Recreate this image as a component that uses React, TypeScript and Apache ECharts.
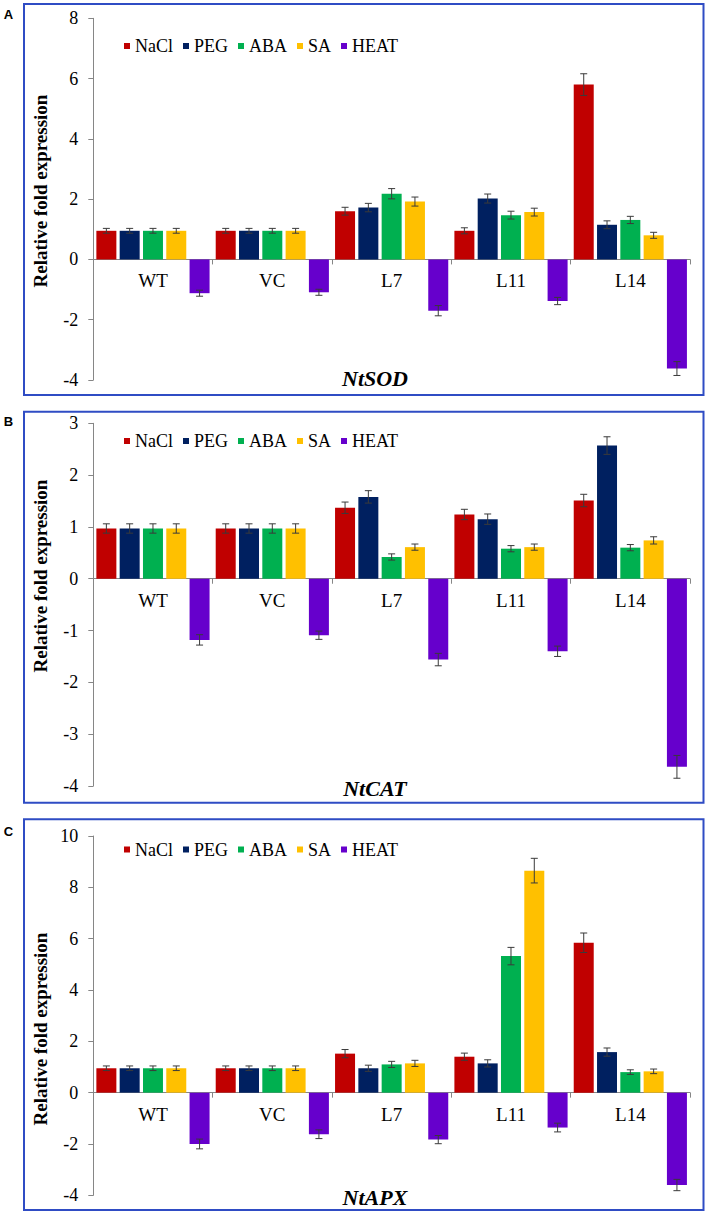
import React, { useEffect, useRef } from "react";
import * as echarts from "echarts";

const categories = ["WT", "VC", "L7", "L11", "L14"];
const seriesNames = ["NaCl", "PEG", "ABA", "SA", "HEAT"];
const colors = ["#C00000", "#002060", "#00B050", "#FFC000", "#6600CC"];

// Panel A: NtSOD
const sodNaCl = [0.95, 0.95, 1.6, 0.95, 5.8];
const sodPEG = [0.95, 0.95, 1.72, 2.02, 1.15];
const sodABA = [0.95, 0.95, 2.18, 1.47, 1.31];
const sodSA = [0.95, 0.95, 1.92, 1.57, 0.8];
const sodHEAT = [-1.12, -1.09, -1.7, -1.38, -3.62];
const sodNaClErr = [0.08, 0.08, 0.13, 0.1, 0.36];
const sodPEGErr = [0.08, 0.08, 0.14, 0.15, 0.13];
const sodABAErr = [0.08, 0.08, 0.17, 0.13, 0.12];
const sodSAErr = [0.08, 0.08, 0.15, 0.13, 0.1];
const sodHEATErr = [0.1, 0.1, 0.17, 0.12, 0.23];

// Panel B: NtCAT
const catNaCl = [0.97, 0.97, 1.37, 1.24, 1.51];
const catPEG = [0.97, 0.97, 1.58, 1.15, 2.57];
const catABA = [0.97, 0.97, 0.42, 0.58, 0.6];
const catSA = [0.97, 0.97, 0.61, 0.61, 0.74];
const catHEAT = [-1.18, -1.09, -1.56, -1.4, -3.63];
const catNaClErr = [0.09, 0.09, 0.11, 0.1, 0.12];
const catPEGErr = [0.09, 0.09, 0.12, 0.1, 0.17];
const catABAErr = [0.09, 0.09, 0.06, 0.06, 0.06];
const catSAErr = [0.09, 0.09, 0.06, 0.06, 0.07];
const catHEATErr = [0.1, 0.08, 0.12, 0.1, 0.22];

// Panel C: NtAPX
const apxNaCl = [0.95, 0.95, 1.52, 1.4, 5.84];
const apxPEG = [0.95, 0.95, 0.95, 1.14, 1.58];
const apxABA = [0.95, 0.95, 1.1, 5.32, 0.8];
const apxSA = [0.95, 0.95, 1.14, 8.65, 0.83];
const apxHEAT = [-2.0, -1.62, -1.83, -1.36, -3.6];
const apxNaClErr = [0.09, 0.09, 0.16, 0.14, 0.38];
const apxPEGErr = [0.09, 0.09, 0.12, 0.14, 0.16];
const apxABAErr = [0.09, 0.09, 0.12, 0.34, 0.09];
const apxSAErr = [0.09, 0.09, 0.12, 0.48, 0.09];
const apxHEATErr = [0.19, 0.17, 0.16, 0.17, 0.22];

const geneTitles = ["NtSOD", "NtCAT", "NtAPX"];
const panelLetters = ["A", "B", "C"];
const yMins = [-4, -4, -4];
const yMaxs = [8, 3, 10];
const yIntervals = [2, 1, 2];

const SERIF = "'Liberation Serif', 'Times New Roman', serif";
const SANS = "'Liberation Sans', Arial, sans-serif";

const panelValues = [
  [sodNaCl, sodPEG, sodABA, sodSA, sodHEAT],
  [catNaCl, catPEG, catABA, catSA, catHEAT],
  [apxNaCl, apxPEG, apxABA, apxSA, apxHEAT],
];
const panelErrors = [
  [sodNaClErr, sodPEGErr, sodABAErr, sodSAErr, sodHEATErr],
  [catNaClErr, catPEGErr, catABAErr, catSAErr, catHEATErr],
  [apxNaClErr, apxPEGErr, apxABAErr, apxSAErr, apxHEATErr],
];

// layout
const GRID_LEFT = 93.3;
const GRID_RIGHT_X = 690;
const gridTops = [18.3, 423.3, 836];
const gridHeights = [361.7, 362.7, 359.3];
const frameTops = [4, 411.7, 819.3];
const frameBottoms = [395, 802.7, 1210];
const legendTops = [37, 432, 840.5];
const letterYs = [14.7, 421.8, 831.7];
const yTitleYs = [191, 576, 1029];
const geneTitleYs = [378, 788, 1197];
const BAR_W = 20;
const BAR_GAP = 0.165;

export default function App() {
  const ref = useRef<HTMLDivElement>(null);
  useEffect(() => {
    document.body.style.margin = "0";
    document.body.style.overflow = "hidden";
    if (!ref.current) return;
    const chart = echarts.init(ref.current, undefined, { renderer: "svg" });

    const grids: any[] = [];
    const xAxes: any[] = [];
    const yAxes: any[] = [];
    const legends: any[] = [];
    const series: any[] = [];
    const graphics: any[] = [];

    for (let p = 0; p < 3; p++) {
      grids.push({
        left: GRID_LEFT,
        top: gridTops[p],
        width: GRID_RIGHT_X - GRID_LEFT,
        height: gridHeights[p],
        containLabel: false,
      });
      // place the category axis at the value 0 of the value axis
      const zeroOffset = -gridHeights[p] * (0 - yMins[p]) / (yMaxs[p] - yMins[p]);
      xAxes.push({
        type: "category",
        gridIndex: p,
        data: categories,
        position: "bottom",
        offset: zeroOffset,
        axisLine: { onZero: false, lineStyle: { color: "#868686", width: 1 } },
        axisTick: { show: true, length: 5, alignWithLabel: false, interval: 0, lineStyle: { color: "#868686" } },
        axisLabel: { margin: 12, color: "#000", fontFamily: SERIF, fontSize: 19, interval: 0 },
        splitLine: { show: false },
      });
      yAxes.push({
        type: "value",
        gridIndex: p,
        min: yMins[p],
        max: yMaxs[p],
        interval: yIntervals[p],
        axisLine: { show: true, lineStyle: { color: "#868686", width: 1 } },
        axisTick: { show: true, length: 5, lineStyle: { color: "#868686" } },
        axisLabel: { margin: 15, color: "#000", fontFamily: SERIF, fontSize: 18 },
        splitLine: { show: false },
      });
      legends.push({
        data: seriesNames,
        left: 124,
        top: legendTops[p],
        padding: 0,
        itemGap: 10,
        itemWidth: 6,
        itemHeight: 6,
        icon: "rect",
        selectedMode: false,
        textStyle: { fontFamily: SERIF, fontSize: 18, color: "#000" },
      });

      for (let s = 0; s < 5; s++) {
        series.push({
          type: "bar",
          name: seriesNames[s],
          xAxisIndex: p,
          yAxisIndex: p,
          barWidth: BAR_W,
          barGap: BAR_GAP * 100 + "%",
          itemStyle: { color: colors[s] },
          data: panelValues[p][s],
        });
      }
      for (let s = 0; s < 5; s++) {
        const off = (s - 2) * BAR_W * (1 + BAR_GAP);
        series.push({
          type: "custom",
          name: "err-" + seriesNames[s],
          xAxisIndex: p,
          yAxisIndex: p,
          z: 5,
          encode: { x: 0, y: 1 },
          data: categories.map((_, i) => [i, panelValues[p][s][i], panelErrors[p][s][i]]),
          renderItem: (params: any, api: any) => {
            const cat = api.value(0);
            const v = api.value(1);
            const e = api.value(2);
            const hi = api.coord([cat, v + e]);
            const lo = api.coord([cat, v - e]);
            const x = hi[0] + off;
            const st = { stroke: "#3a3a3a", lineWidth: 1 };
            return {
              type: "group",
              children: [
                { type: "line", shape: { x1: x, y1: hi[1], x2: x, y2: lo[1] }, style: st },
                { type: "line", shape: { x1: x - 3.5, y1: hi[1], x2: x + 3.5, y2: hi[1] }, style: st },
                { type: "line", shape: { x1: x - 3.5, y1: lo[1], x2: x + 3.5, y2: lo[1] }, style: st },
              ],
            };
          },
        });
      }

      graphics.push({
        type: "rect",
        shape: { x: 24, y: frameTops[p], width: 679.5, height: frameBottoms[p] - frameTops[p] },
        style: { fill: "none", stroke: "#2f4cc4", lineWidth: 2 },
        silent: true,
      });
      graphics.push({
        type: "text",
        x: 8.5,
        y: letterYs[p],
        style: {
          text: panelLetters[p],
          fontFamily: SANS,
          fontWeight: "bold",
          fontSize: 13,
          fill: "#000",
          align: "center",
          verticalAlign: "middle",
        },
      });
      graphics.push({
        type: "text",
        x: 40,
        y: yTitleYs[p],
        rotation: Math.PI / 2,
        style: {
          text: "Relative fold expression",
          fontFamily: SERIF,
          fontWeight: "bold",
          fontSize: 19,
          fill: "#000",
          align: "center",
          verticalAlign: "middle",
        },
      });
      graphics.push({
        type: "text",
        x: 375,
        y: geneTitleYs[p],
        style: {
          text: geneTitles[p],
          fontFamily: SERIF,
          fontWeight: "bold",
          fontStyle: "italic",
          fontSize: 22,
          fill: "#000",
          align: "center",
          verticalAlign: "middle",
        },
      });
    }

    chart.setOption({
      animation: false,
      backgroundColor: "#fff",
      grid: grids,
      xAxis: xAxes,
      yAxis: yAxes,
      legend: legends,
      series,
      graphic: graphics,
    });
    return () => chart.dispose();
  }, []);
  return <div ref={ref} style={{ width: 708, height: 1214 }} />;
}
